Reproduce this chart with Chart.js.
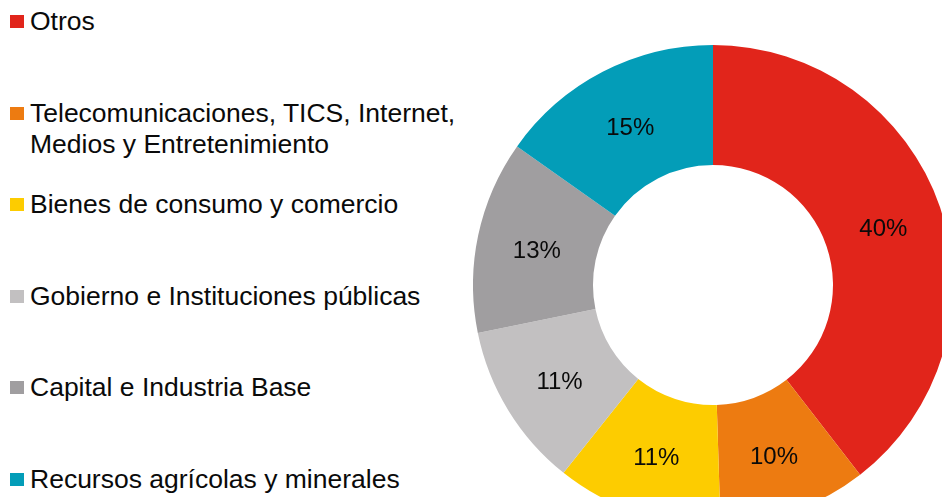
<!DOCTYPE html>
<html>
<head>
<meta charset="utf-8">
<script src="https://cdn.jsdelivr.net/npm/chart.js@4/dist/chart.umd.min.js"></script>
<style>
  html, body { margin: 0; padding: 0; width: 942px; height: 497px; overflow: hidden; background: #fff; }
  #legend { position: absolute; left: 0; top: 0; font-family: "Liberation Sans", Arial, sans-serif; font-size: 26.5px; color: #0a0a0a; }
  .item { position: absolute; left: 30px; line-height: 31px; white-space: nowrap; }
  .sw { position: absolute; left: -20px; width: 14px; height: 13px; }
  #wrap { position: absolute; left: 473px; top: 45px; width: 480px; height: 480px; }
</style>
</head>
<body>
<div id="legend"></div>
<div id="wrap"><canvas id="c" width="480" height="480"></canvas></div>
<script>
const categories = [
  ["Otros"],
  ["Telecomunicaciones, TICS, Internet,", "Medios y Entretenimiento"],
  ["Bienes de consumo y comercio"],
  ["Gobierno e Instituciones públicas"],
  ["Capital e Industria Base"],
  ["Recursos agrícolas y minerales"]
];
const shares = [39.5, 10.0, 11.2, 11.1, 13.0, 15.2];
const shareLabels = ["40%", "10%", "11%", "11%", "13%", "15%"];
const colors = ["#E1251B", "#ED7B11", "#FDCC00", "#C2C0C1", "#A09EA0", "#039DB8"];

// HTML legend built from the arrays
const legend = document.getElementById('legend');
const firstBaseline = 31, step = 91.5, baseInLine = 24.7;
categories.forEach((lines, i) => {
  const base = firstBaseline + i * step;
  const d = document.createElement('div');
  d.className = 'item';
  d.style.top = (base - baseInLine) + 'px';
  d.innerHTML = lines.join('<br>');
  const s = document.createElement('span');
  s.className = 'sw';
  s.style.background = colors[i];
  s.style.top = (baseInLine - 15.5) + 'px';
  d.appendChild(s);
  legend.appendChild(d);
});

const pctPlugin = {
  id: 'pct',
  afterDatasetsDraw(chart) {
    const ctx = chart.ctx;
    const meta = chart.getDatasetMeta(0);
    ctx.save();
    ctx.font = '24px "Liberation Sans", Arial, sans-serif';
    ctx.fillStyle = '#0a0a0a';
    ctx.textAlign = 'center';
    ctx.textBaseline = 'middle';
    meta.data.forEach((arc, i) => {
      const p = arc.getCenterPoint();
      ctx.fillText(shareLabels[i], p.x, p.y + 3);
    });
    ctx.restore();
  }
};

new Chart(document.getElementById('c'), {
  type: 'doughnut',
  data: {
    labels: categories.map(l => l.join(' ')),
    datasets: [{
      data: shares,
      backgroundColor: colors,
      borderWidth: 0,
      hoverOffset: 0,
      offset: 0
    }]
  },
  options: {
    responsive: false,
    animation: false,
    events: [],
    cutout: '50%',
    layout: { padding: 0 },
    plugins: { legend: { display: false }, tooltip: { enabled: false } }
  },
  plugins: [pctPlugin]
});
</script>
</body>
</html>
